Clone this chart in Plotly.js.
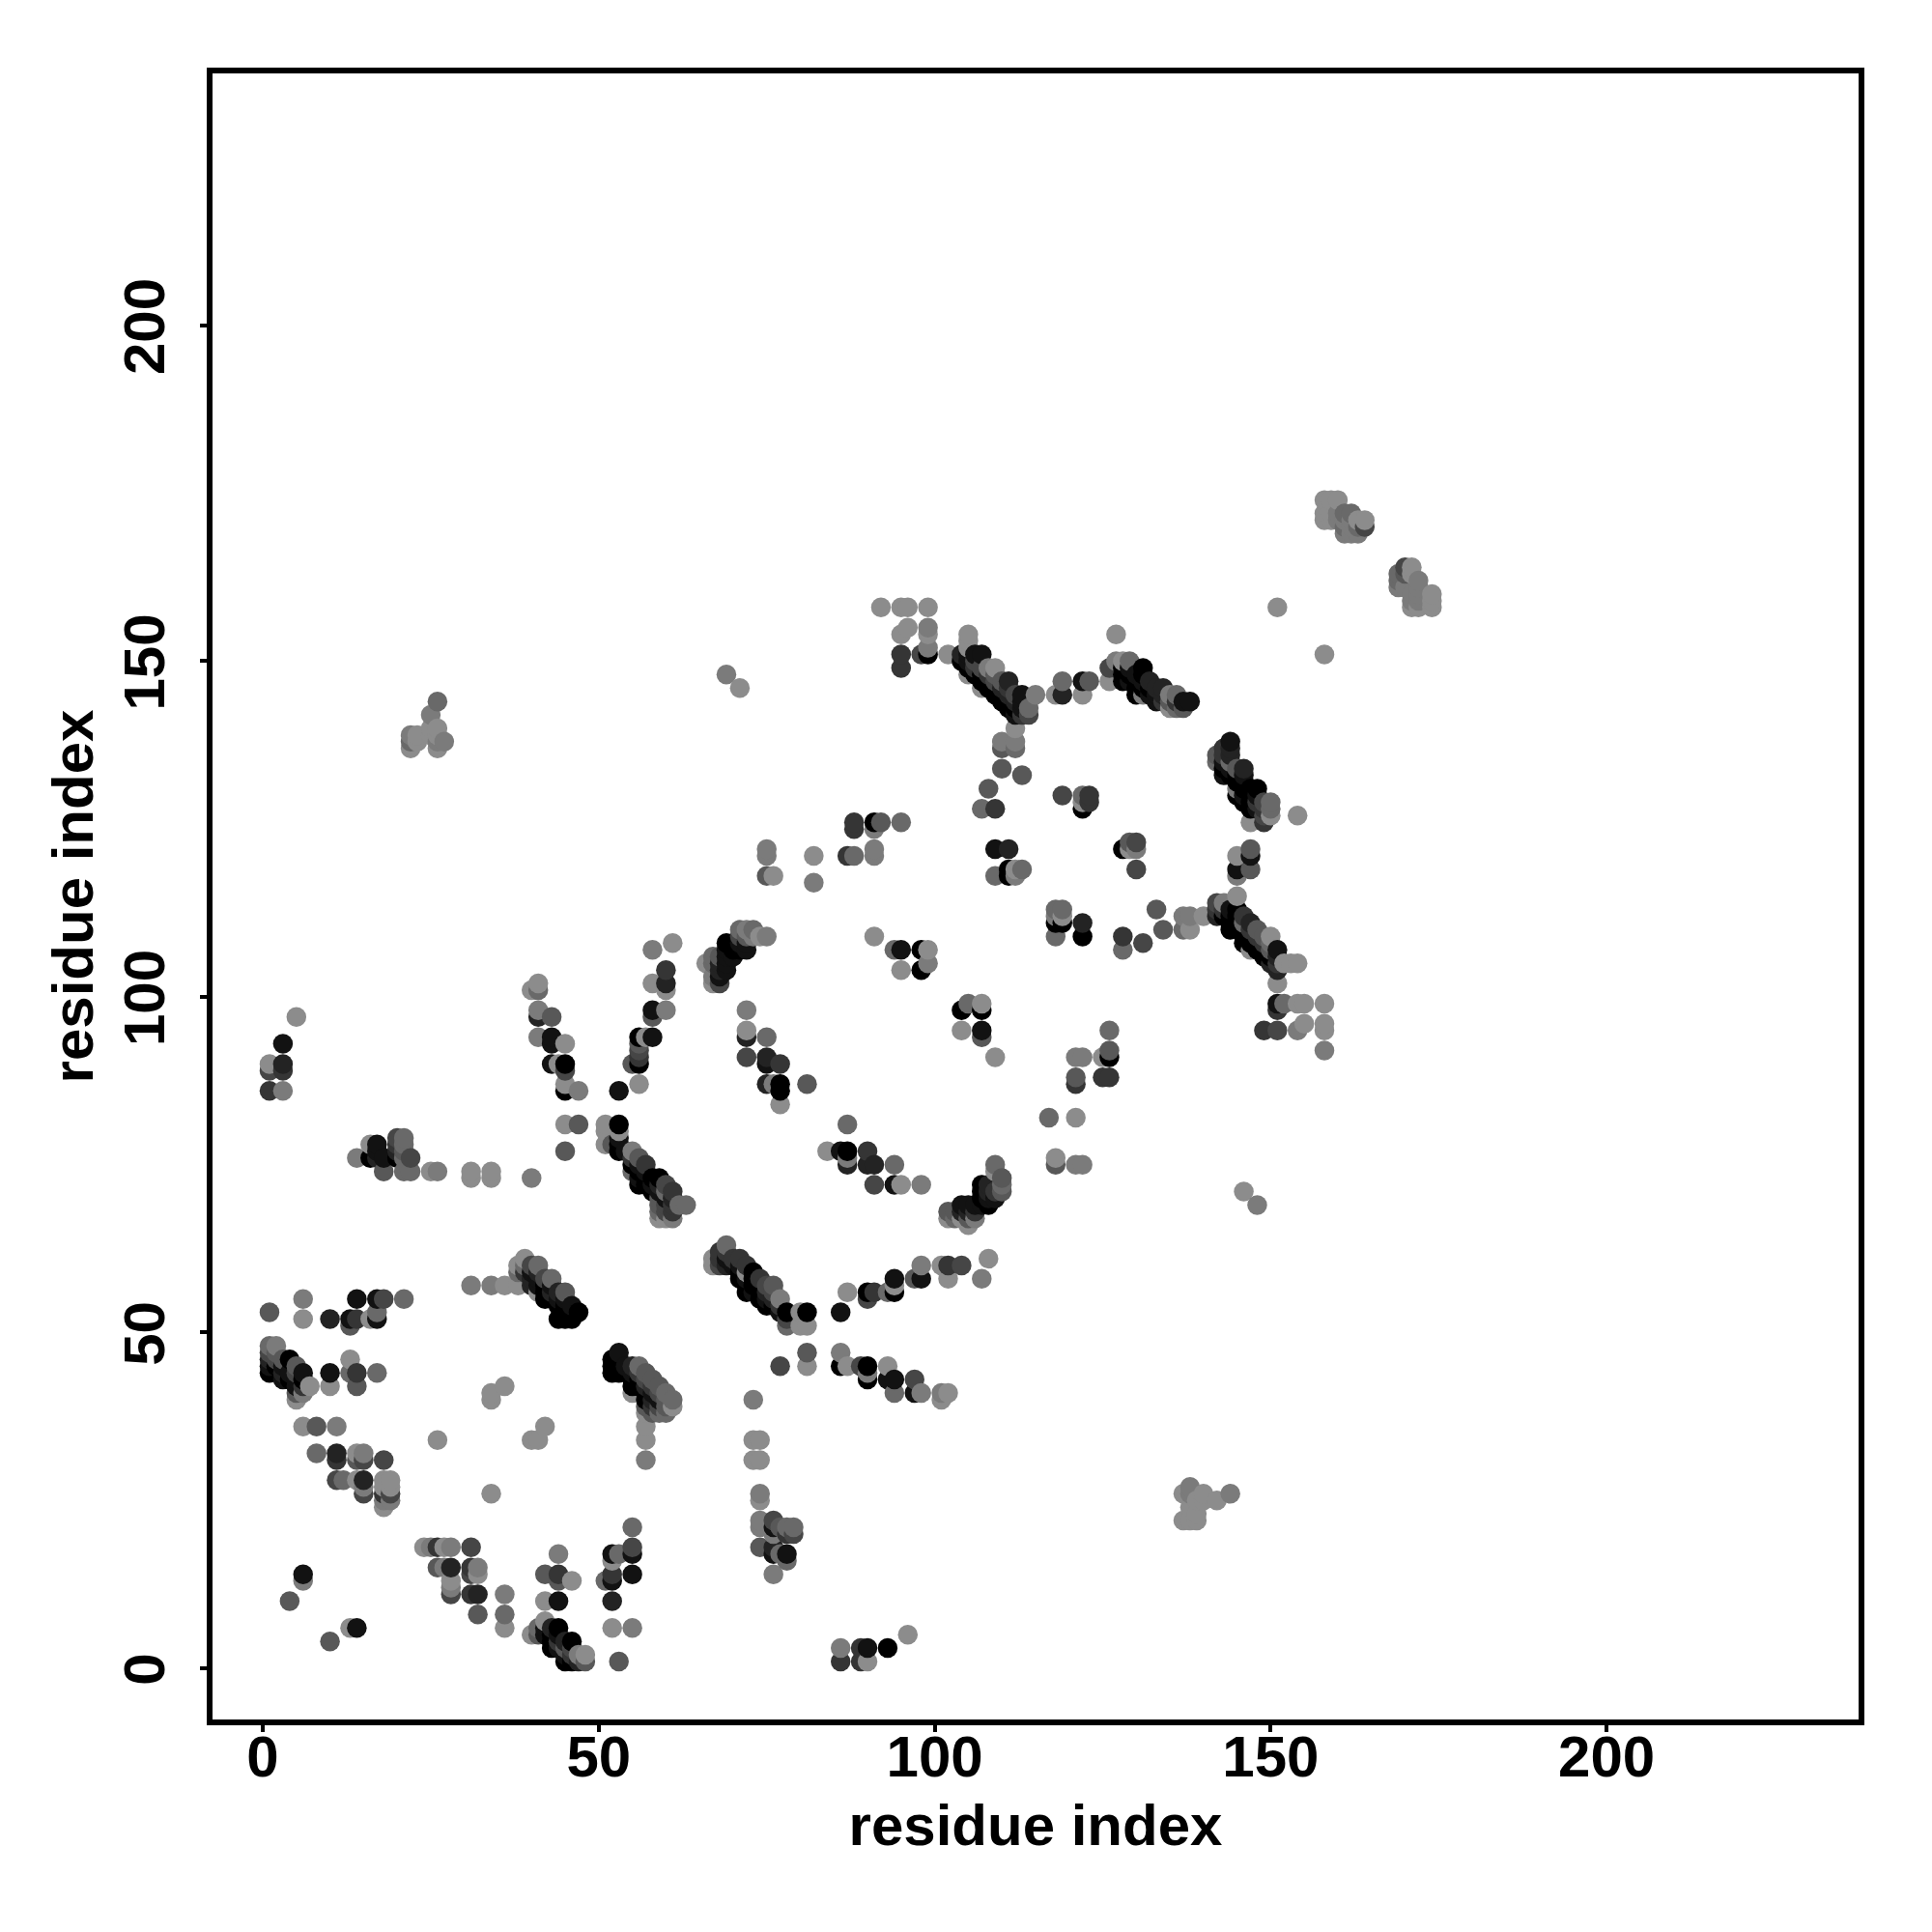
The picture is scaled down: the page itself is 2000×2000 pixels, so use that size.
<!DOCTYPE html>
<html><head><meta charset="utf-8">
<script src="https://cdn.plot.ly/plotly-3.0.1.min.js"></script>
<style>html,body{margin:0;padding:0;background:#fff}</style></head>
<body><div id="chart" style="width:2000px;height:2000px"></div>
<script>
// contacts: [residue i, residue j, grey level 0 (black) .. 8 (light)]
const lowerLeft = [[6,55,7],[14,55,1],[17,55,1],[18,55,4],[21,55,6],[1,53,5],[6,52,8],[10,52,2],[13,52,1],[14,52,3],[16,52,8],[17,52,1],[13,51,5],[17,53,6],
[1,48,6],[2,48,7],[1,47,4],[2,47,5],[1,46,2],[2,46,4],[3,46,5],[4,46,0],[1,45,1],[2,45,0],[3,45,1],[5,45,5],[1,44,0],[3,44,2],[4,44,1],[5,44,4],[6,44,1],[3,43,1],[4,43,0],[5,43,1],[6,43,0],[5,42,1],[6,42,3],[7,42,8],[5,41,5],[6,41,7],[5,40,8],[10,44,1],[13,46,8],[13,44,6],[14,44,3],[17,44,6],[10,42,8],[14,42,5],
[6,36,8],[8,36,5],[11,36,7],[26,34,8],[8,32,6],[11,32,2],[11,31,3],[14,32,8],[15,32,7],[14,31,5],[15,31,4],[18,31,4],[11,28,4],[12,28,6],[14,28,8],[15,28,2],[15,27,7],[15,26,4],[18,28,8],[19,28,8],[18,27,8],[19,27,8],[18,26,3],[19,26,4],[18,25,7],[19,25,7],[18,24,8],
[34,41,8],[34,40,8],[36,42,8],[40,34,8],[41,34,8],[42,36,8],[34,26,8]];
const lowerMiddle = [[24,18,8],[25,18,7],[26,18,3],[27,18,8],[28,18,7],[31,18,4],[26,15,5],[27,15,7],[28,15,2],[31,15,3],[32,15,7],[32,14,8],[31,14,4],[28,13,8],[28,12,7],[28,11,4],[31,11,3],[32,11,2],[36,11,7],[32,8,5],[36,8,6],[36,6,8],
[6,14,1],[6,13,7],[4,10,5],[13,6,8],[14,6,1],[10,4,5],
[44,17,7],[42,14,5],[44,14,3],[44,13,5],[46,13,8],[42,10,8],[44,10,1],[52,17,1],[53,17,6],[55,18,4],[55,17,1],[55,21,6],[52,16,8],[52,14,3],[51,13,6],[52,13,1],[55,14,1],[52,10,2],[52,6,8],[55,6,7],[53,1,5],
[40,5,8],[41,6,6],[41,5,5],[42,7,8],[42,6,1],[43,6,2],[44,6,0],[42,5,1],[43,5,0],[43,4,0],[44,5,1],[43,3,0],[44,4,3],[44,3,1],[45,4,2],[46,4,0],[45,3,5],[45,2,1],[45,1,0],[46,1,0],[46,2,3],[46,3,4],[47,1,2],[47,2,7],[48,1,5],[48,2,8]];
const chainA = [[31,57,7],[34,57,7],[36,57,8],[38,57,8],[38,60,8],[39,61,8],[40,60,4],[41,60,6],[38,59,6],[39,60,6],[39,59,3],[40,59,1],[40,58,2],[40,57,2],[41,59,2],[41,58,1],[41,57,1],[41,56,8],[42,58,4],[42,57,0],[42,56,0],[42,55,0],[43,58,6],[43,57,1],[43,56,2],[43,55,0],[44,56,2],[44,55,1],[44,54,0],[45,56,5],[45,55,1],[45,54,0],[46,54,1],[44,52,0],[45,52,0],[46,52,0],[45,53,0],[46,53,0],[47,53,0]];
const chainB = [[53,47,1],[52,46,0],[52,45,0],[52,44,0],[53,46,0],[53,45,0],[53,44,0],[54,45,1],[55,45,2],[56,45,6],[55,44,1],[55,43,0],[55,42,0],[55,41,8],[56,44,3],[57,44,5],[56,43,0],[56,42,0],[57,43,4],[58,43,5],[57,42,2],[57,41,0],[58,42,3],[58,41,1],[59,42,5],[59,41,4],[60,41,6],[57,40,0],[58,40,2],[59,40,1],[60,40,5],[61,40,6],[59,39,4],[60,39,5],[61,39,8],[57,39,5],[58,39,3],[58,38,5],[59,38,6],[60,38,6],[57,38,8],[57,36,8],[57,34,8],[57,31,7]];
const branchA = [[73,40,7],[73,34,8],[74,34,8],[73,31,8],[74,31,8],[74,26,7],[74,25,8],[74,22,7],[74,21,7],[76,22,4],[76,21,1],[76,20,7],[77,21,5],[78,21,6],[79,21,6],[78,20,3],[79,20,4],[74,18,5],[76,18,2],[76,17,1],[77,17,6],[78,17,1],[78,16,6],[76,14,7],
[86,3,7],[89,3,3],[90,3,1],[93,3,0],[86,1,3],[89,1,3],[90,1,8],[96,5,8]];
const branchB = [[81,53,0],[86,53,1],[77,53,1],[78,53,0],[80,53,8],[78,51,6],[78,52,4],[80,51,8],[81,51,8],[87,56,8],[90,56,0],[91,56,3],[93,56,6],[94,56,0],[94,57,8],[94,58,1],[90,55,4],[97,58,5],[98,58,1],[98,60,7],[101,60,8],[102,60,3],[104,60,4],[102,58,8],[107,58,7],[108,61,8],
[81,47,5],[86,47,7],[77,45,4],[81,45,8],[86,45,0],[87,45,8],[89,45,4],[90,45,0],[93,45,8],[90,44,7],[90,43,0],[93,43,1],[94,43,1],[97,43,4],[94,41,6],[97,41,1],[98,41,7],[101,41,7],[102,41,8],[101,40,8]];
const chainD = [[67,61,8],[67,60,8],[68,62,3],[68,61,3],[68,60,4],[69,63,6],[69,62,3],[69,61,1],[69,60,2],[70,61,3],[70,60,1],[71,61,3],[71,60,1],[71,59,0],[71,58,0],[72,60,3],[72,59,8],[72,58,1],[72,56,0],[73,59,0],[73,58,0],[73,57,0],[73,56,1],[74,58,3],[74,57,0],[74,56,0],[74,55,0],[75,57,4],[75,56,2],[75,55,1],[75,54,0],[76,57,5],[76,56,4],[76,55,2],[76,54,0],[77,55,7],[77,54,3]];
const upperLeft = [[5,97,8],[3,93,1],[1,90,8],[3,90,2],[1,89,4],[3,89,3],[1,86,3],[3,86,7],
[40,101,8],[41,102,8],[41,101,6],[41,98,7],[41,97,2],[43,97,5],[41,94,7],[43,94,1],[43,93,1],[45,93,8],[43,90,1],[44,90,8],[45,90,0],[45,89,4],[45,87,8],[45,86,0],[47,86,7],[45,81,8],[47,81,5],[45,77,5],
[58,107,7],[61,108,8],[60,104,3],[60,102,2],[60,101,8],[58,102,8],[58,98,1],[58,97,5],[60,98,7],[56,94,0],[58,94,1],[57,94,8],[56,93,5],[56,92,4],[56,91,3],[56,90,0],[55,90,5],[53,86,1],[56,87,8],
[14,76,7],[16,78,8],[17,78,1],[17,77,1],[16,76,0],[17,76,2],[18,76,1],[18,74,5],[20,79,4],[21,79,6],[20,78,3],[21,78,6],[20,77,2],[20,76,0],[21,77,5],[21,76,6],[22,76,4],[21,74,6],[22,74,6],[25,74,8],[26,74,7],[31,74,8],[31,73,8],[34,74,8],[34,73,8],[40,73,7],
[26,144,6],[25,142,7],[25,140,8],[26,140,8],[22,139,7],[23,139,8],[25,139,8],[26,139,8],[22,138,6],[22,137,8],[23,138,8],[26,138,7],[26,137,8],[27,138,7],
[138,27,7],[137,26,8],[138,26,7],[140,26,8],[144,26,7],[139,25,8],[140,25,8],[142,25,8],[138,24,8],[139,23,8],[137,22,8],[138,22,8],[139,22,8]];
const chainC = [[51,81,8],[51,80,8],[53,81,0],[53,80,8],[51,78,8],[52,78,5],[53,79,1],[53,78,0],[53,77,0],[54,77,1],[55,77,7],[55,76,3],[55,75,0],[55,74,6],[56,76,5],[56,75,1],[56,74,0],[56,72,0],[56,73,1],[57,75,3],[57,74,1],[57,73,0],[57,72,0],[58,73,0],[58,72,1],[58,71,0],[59,73,0],[59,72,2],[59,71,1],[60,72,4],[60,71,6],[60,70,1],[61,71,3],[61,70,2],[61,69,3],[62,69,6],[63,69,6],[60,69,4],[60,68,4],[61,68,3],[60,67,8],[61,67,7],[59,70,5],[59,69,5],[59,68,6],[59,67,8]];
const ringA = [[75,122,7],[75,121,7],[82,121,8],[75,118,5],[76,118,8],[82,117,7],[88,126,3],[88,125,3],[91,126,0],[92,126,5],[95,126,6],[91,125,7],[87,121,3],[88,121,6],[91,122,7],[91,121,7],
[92,158,8],[95,158,8],[96,158,8],[99,158,8],[96,155,8],[95,154,8],[99,155,7],[99,154,8],[99,152,7],[95,151,3],[95,149,3],[98,151,4],[99,151,0],[102,151,8],[69,148,7],[71,146,8],
[66,105,8],[67,106,6],[67,105,6],[67,103,7],[67,102,8],[68,102,4],[68,106,5],[68,105,2],[68,104,2],[68,103,1],[69,108,0],[69,107,1],[69,106,1],[69,105,1],[69,104,1],[70,107,0],[70,106,1],[71,110,6],[71,109,4],[71,108,1],[71,107,0],[72,110,7],[72,109,5],[72,108,1],[72,107,1],[73,110,6],[73,109,7],[74,109,8],[75,109,7],
[72,98,7],[72,95,8],[72,94,2],[75,94,6],[72,91,4],[75,91,2],[75,90,1],[77,90,3],[75,87,2],[76,87,7],[77,87,0],[77,86,0],[77,84,8],[81,87,5],
[87,81,6],[84,77,8],[86,77,1],[87,77,0],[90,77,3],[87,76,7],[87,75,2],[90,75,2],[91,75,2],[94,75,6],[91,72,4],[94,72,1],[95,72,8],[98,72,7]];
const curve = [[109,75,6],[109,74,8],[110,73,5],[110,72,6],[110,71,5],[107,72,0],[107,71,0],[108,72,2],[108,71,2],[108,70,1],[108,69,0],[106,69,1],[107,70,0],[107,69,1],[109,71,3],[109,70,1],[104,69,1],[105,69,1],[102,68,5],[102,67,8],[103,67,6],[103,68,5],[104,68,2],[104,67,8],[105,68,2],[105,67,5],[105,66,8],[106,67,7],[106,68,3],
[91,109,8],[94,107,6],[95,107,1],[98,107,0],[99,107,8],[99,105,7],[98,104,0],[95,104,8],[104,98,0],[105,99,6],[107,99,8],[107,98,0],[104,95,8],[107,95,1],[107,94,5],[109,91,8]];
const chainE = [[105,154,8],[105,153,8],[104,151,2],[105,151,1],[105,152,8],[106,151,1],[107,151,1],[104,150,0],[105,150,1],[106,150,4],[105,149,0],[106,149,3],[107,149,4],[108,149,7],[109,149,8],[106,148,0],[107,148,0],[108,148,3],[109,148,5],[105,148,8],[107,147,0],[108,147,0],[109,147,4],[110,147,5],[111,147,2],[108,146,0],[109,146,0],[110,146,2],[111,146,3],[107,146,8],[109,145,0],[110,145,0],[111,145,2],[112,145,4],[110,144,0],[111,144,0],[112,144,2],[113,145,1],[115,145,7],[113,144,1],[114,143,6],[111,143,0],[112,143,0],[113,143,1],[112,142,1],[113,142,3],[114,142,4],[112,140,8],[110,138,7],[112,138,7],[110,137,5],[112,137,6],[110,134,5],[113,133,5],[108,131,5],[107,128,6],[109,128,3],
[109,122,1],[111,122,2],[109,118,6],[111,119,0],[111,118,0],[112,119,8],[112,118,7],[113,119,6]];
const chainF = [[151,158,8],[158,151,8],[119,147,6],[119,145,2],[118,145,8],[122,147,1],[123,147,5],[122,145,8],[127,154,8],
[126,149,4],[126,147,8],[127,150,7],[127,149,4],[128,150,8],[129,150,6],[128,149,0],[128,148,0],[128,147,0],[129,149,1],[129,148,0],[129,147,1],[130,148,1],[130,147,0],[130,146,0],[130,145,0],[131,149,0],[131,148,0],[131,147,1],[131,146,0],[131,145,7],[132,147,2],[132,146,0],[132,145,1],[133,146,2],[133,145,1],[133,144,1],[134,146,2],[134,145,2],[134,144,3],[135,145,7],[135,144,5],[135,143,8],[136,145,6],[136,144,3],[136,143,6],[137,144,1],[137,143,5],[138,144,1],
[144,138,1],[144,137,2],[142,136,5],[142,135,6],[143,137,3],[143,136,3],[143,135,1],[143,134,0],[143,133,1],[144,136,2],[144,135,6],[144,134,1],[144,133,0],[145,134,5],[145,133,0],[145,132,0],[145,131,7],[145,130,0],[146,134,2],[146,133,1],[146,132,0],[146,131,0],[146,130,1],[146,129,0],[147,131,0],[147,130,0],[147,129,0],[147,128,0],[147,126,8],[148,131,0],[148,130,1],[148,129,3],[148,128,1],[149,129,4],[149,128,3],[149,127,4],[149,126,3],[150,129,6],[150,128,6],[150,127,8],[154,127,8],
[147,122,5],[147,121,1],[145,121,8],[145,119,1],[147,119,5],[145,118,7]];
const ringB = [[119,130,4],[122,130,6],[123,130,3],[123,129,3],[122,129,8],[122,128,0],[128,122,0],[129,123,5],[130,123,4],[129,122,8],[130,122,7],[130,119,4],
[118,113,6],[119,113,6],[118,112,7],[119,112,8],[118,111,0],[119,111,0],[118,109,6],[122,111,2],[122,109,0],[128,109,3],[128,107,6],[131,108,4],[133,113,5],[134,110,5],[137,112,7],[138,112,7],[137,110,6],[138,110,8],[140,112,8],
[142,114,4],[142,113,3],[142,112,2],[143,114,7],[143,113,3],[143,112,0],[144,113,1],[144,112,0],[144,111,0],[144,110,0],[145,115,8],[145,113,0],[145,112,0],[145,111,0],[146,112,3],[146,111,6],[146,110,0],[146,109,0],[146,108,0],[147,111,2],[147,110,3],[147,109,0],[147,108,0],[147,107,8],[148,110,5],[148,109,3],[148,108,0],[148,107,0],[149,109,5],[149,108,3],[149,107,0],[149,106,0],[150,109,8],[150,108,6],[150,107,5],[150,106,0],[150,105,2],[151,107,1],[151,106,2],[151,105,3],[151,104,2],[152,105,8],[153,105,8],[154,105,8],[151,102,8],
[151,99,1],[151,98,3],[152,99,6],[154,99,8],[155,99,8],[158,99,8],[149,95,3],[151,95,4],[154,95,7],[155,96,8],[158,96,8],[158,95,8],[158,92,7],
[126,95,6],[121,91,7],[122,91,7],[125,91,8],[126,92,5],[126,91,0],[125,88,3],[126,88,3],[121,88,5],[121,87,3],[117,82,6],[121,82,8],[118,76,8],[118,75,5],[121,75,7],[122,75,7],[146,71,8],[148,69,7]];
const farCluster = [[158,174,8],[159,174,8],[160,174,8],[158,172,8],[159,172,8],[160,172,7],[161,172,6],[162,172,6],[158,171,8],[159,171,8],[160,171,7],[161,171,7],[162,171,7],[163,171,8],[164,171,8],[161,170,6],[162,170,7],[163,170,6],[164,170,4],[161,169,7],[162,169,7],[163,169,7],
[170,164,4],[171,164,8],[169,163,6],[170,163,5],[171,163,8],[169,162,6],[172,162,7],[169,161,7],[170,161,7],[172,161,7],[171,160,7],[172,160,7],[174,160,8],[171,159,7],[172,159,7],[174,159,8],[171,158,8],[172,158,8],[174,158,8]];

const xTicks = [0,50,100,150,200];
const yTicks = [0,50,100,150,200];
const axisTitle = 'residue index';

// later residues are painted over earlier ones
const contacts = [lowerLeft,lowerMiddle,chainA,chainB,branchA,branchB,chainD,upperLeft,chainC,ringA,curve,chainE,chainF,ringB,farCluster]
  .flat().sort((a,b)=>a[0]-b[0]||a[1]-b[1]);

const font = {family:'"Liberation Sans", Arial, sans-serif', size:60, color:'#000'};
const axisBase = {showgrid:false, zeroline:false, showline:true, mirror:true, linecolor:'#000', linewidth:6,
  ticks:'outside', ticklen:7, tickwidth:4, tickcolor:'#000', tickmode:'array', tickfont:font};
const W = s => '<b>'+s+'</b>';

Plotly.newPlot('chart',[{
  type:'scatter', mode:'markers',
  x:contacts.map(c=>c[0]), y:contacts.map(c=>c[1]),
  marker:{size:20.5, color:contacts.map(c=>c[2]), cmin:0, cmax:8, colorscale:[[0,'#000000'],[1,'#8c8c8c']], showscale:false, line:{width:0}},
  hoverinfo:'skip'
}],{
  width:2000, height:2000, showlegend:false,
  paper_bgcolor:'#fff', plot_bgcolor:'#fff',
  margin:{l:220,r:76,t:76,b:220,pad:0},
  xaxis:Object.assign({},axisBase,{range:[-7.48,237.5],tickvals:xTicks,ticktext:xTicks.map(v=>W(v)),ticklabelstandoff:-26,
    title:{text:W(axisTitle),font:font,standoff:19}}),
  yaxis:Object.assign({},axisBase,{range:[-7.63,237.55],tickvals:yTicks,ticktext:yTicks.map(v=>W(v)),tickangle:-90,ticklabelstandoff:13,ticklabelshift:10,
    title:{text:W(axisTitle),font:font,standoff:2}})
},{displayModeBar:false,staticPlot:true});
</script></body></html>
